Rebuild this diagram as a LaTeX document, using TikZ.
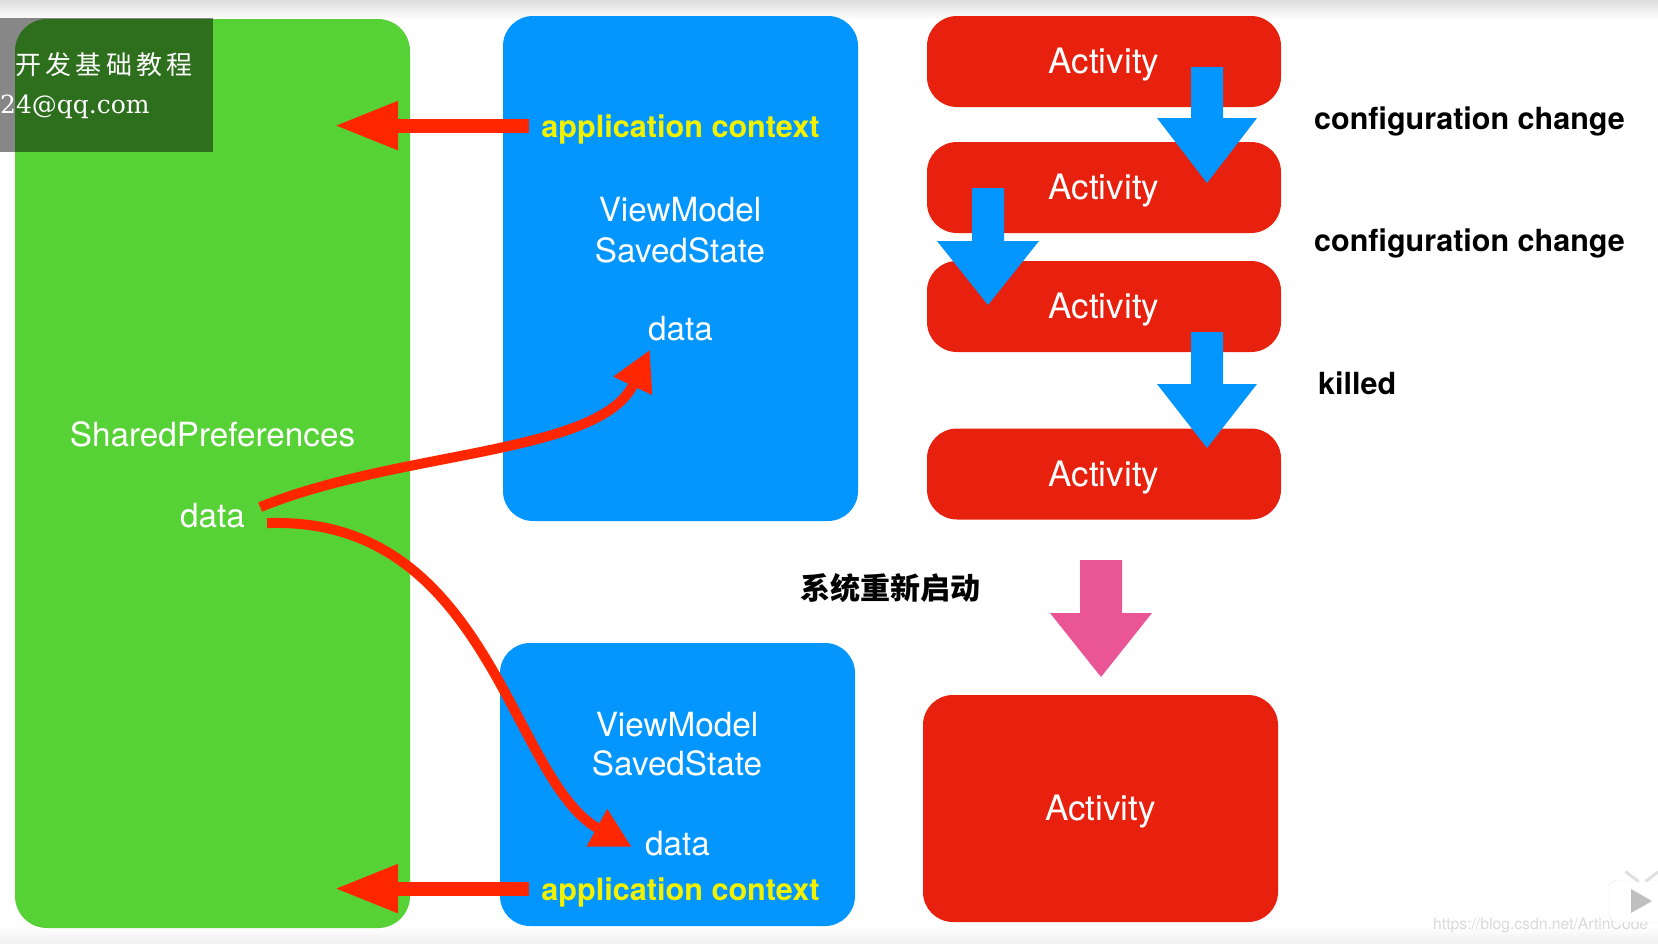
\documentclass[tikz,border=0pt]{standalone}
\usepackage{fontspec}
\setsansfont{TeX Gyre Heros}
\newfontfamily\cjkfont{Noto Sans CJK SC}
\newfontfamily\wmserif{DejaVu Serif}
\usepackage{tikz}
\usetikzlibrary{arrows.meta}
\definecolor{spGreen}{RGB}{86,210,54}
\definecolor{vmBlue}{RGB}{3,150,255}
\definecolor{actRed}{RGB}{232,32,14}
\definecolor{linkRed}{RGB}{255,38,0}
\definecolor{restartPink}{RGB}{234,85,150}
\definecolor{ctxYellow}{RGB}{242,242,0}

% block arrow pointing down: colour, x, top, head base, tip, half shaft, half head
\newcommand{\blockdown}[7]{%
  \fill[#1] (#2-#6,#3) -- (#2+#6,#3) -- (#2+#6,#4) -- (#2+#7,#4) -- (#2,#5)
    -- (#2-#7,#4) -- (#2-#6,#4) -- cycle;}

\begin{document}
\begin{tikzpicture}[x=1pt, y=-1pt, font=\sffamily,
  greenpanel/.style={fill=spGreen, rounded corners=32pt, minimum width=395pt, minimum height=909pt},
  bluepanel/.style={fill=vmBlue, rounded corners=30pt, minimum width=355pt},
  actbox/.style={fill=actRed, rounded corners=30pt, minimum width=354pt, minimum height=91pt,
    text=white, font=\sffamily\fontsize{35}{42}\selectfont, text height=25pt, text depth=1pt},
  whitetxt/.style={text=white, inner sep=0pt, anchor=base, font=\sffamily\fontsize{33.3}{40}\selectfont},
  ctxtxt/.style={text=ctxYellow, inner sep=0pt, anchor=base, text depth=0pt,
    font=\sffamily\bfseries\fontsize{30.6}{36}\selectfont},
  sidetxt/.style={inner sep=0pt, anchor=base west, font=\sffamily\bfseries\fontsize{30.5}{36}\selectfont},
  link/.style={linkRed, line width=10pt, -{Triangle[length=40pt, width=40pt]}},
  ctxlink/.style={linkRed, line width=14pt, -{Triangle[length=64pt, width=45pt]}}]
  \useasboundingbox (0,0) rectangle (1658,943);
  \shade[top color=black!13, bottom color=white] (0,0) rectangle (1658,20);
  \shade[top color=white, bottom color=black!6] (0,926) rectangle (1658,943);

  % panels
  \node[greenpanel] (spBox) at (212.5,473.5) {};
  \node[bluepanel, minimum height=505pt] (vmTop) at (680.5,268.5) {};
  \node[bluepanel, minimum height=283pt] (vmBot) at (677.5,784.5) {};

  \node[actbox] (act1) at (1104,61.5) {Activity};
  \node[actbox] (act2) at (1104,187.5) {Activity};
  \node[actbox] (act3) at (1104,306.5) {Activity};
  \node[actbox] (act4) at (1104,474) {Activity};
  \node[actbox, minimum width=355pt, minimum height=227pt] (actNew) at (1100.5,808.5) {Activity};

  \blockdown{vmBlue}{1207}{67}{118}{183}{16}{50}
  \blockdown{vmBlue}{988}{188}{241}{305}{16}{51}
  \blockdown{vmBlue}{1207}{332}{384}{448}{16}{50}
  \blockdown{restartPink}{1101}{560}{613}{677}{21}{51}

  % texts
  \node[whitetxt] (spName) at (212.5,446) {SharedPreferences};
  \node[whitetxt] (spData) at (212.5,527) {data};

  \node[ctxtxt] (appA) at (680.5,137) {application context};
  \node[whitetxt] (vmA) at (680,221.5) {ViewModel};
  \node[whitetxt] (ssA) at (680,262) {SavedState};
  \node[whitetxt] (vmDataA) at (680.5,340) {data};

  \node[whitetxt] (vmB) at (677,736) {ViewModel};
  \node[whitetxt] (ssB) at (677,775) {SavedState};
  \node[whitetxt] (vmDataB) at (677.5,855) {data};
  \node[ctxtxt] (appB) at (680.5,900) {application context};

  \node[inner sep=0pt, font=\cjkfont\bfseries\fontsize{30}{36}\selectfont] (restartLbl) at (890,588) {系统重新启动};
  \node[sidetxt] (cfg1) at (1314,129) {configuration change};
  \node[sidetxt] (cfg2) at (1314,251) {configuration change};
  \node[sidetxt] (killedLbl) at (1318,394) {killed};

  % links
  \coordinate (spEdge) at (334,0);
  \draw[ctxlink] ([xshift=-12pt]appA.west) -- (appA.west -| spEdge);
  \draw[ctxlink] ([xshift=-12pt]appB.west) -- (appB.west -| spEdge);
  \draw[link] ([shift={(15pt,8pt)}]spData.east) .. controls (400,450) and (600,455) .. ([shift={(2pt,-9pt)}]vmDataA.south west);
  \draw[link] ([shift={(22pt,-8pt)}]spData.east) .. controls (490,515) and (510,780) .. ([shift={(-13pt,-4pt)}]vmDataB.west);

  % video watermark
  \fill[black, opacity=0.47] (0,18) rectangle (213,152);
  \node[anchor=west, inner sep=0pt, text=white, font=\cjkfont\fontsize{26}{30}\selectfont] (wmTitle) at (15,65) {开\,发\,基\,础\,教\,程};
  \node[anchor=base west, inner sep=0pt, text=white, font=\wmserif\fontsize{25}{30}\selectfont] (wmMail) at (0,113) {24@qq.com};
  \node[anchor=base west, inner sep=0pt, text=black!15, font=\sffamily\fontsize{15.7}{18}\selectfont] (wmUrl) at (1433,929) {https://blog.csdn.net/ArtinCode};
  \draw[black!10, fill=white, rounded corners=8pt] (1609,880) rectangle (1670,922);
  \fill[black!25] (1631,889) -- (1652,901) -- (1631,913) -- cycle;
  \draw[black!12, line width=3pt, line cap=round] (1626,872) -- (1638,881) (1658,872) -- (1646,881);
\end{tikzpicture}
\end{document}
